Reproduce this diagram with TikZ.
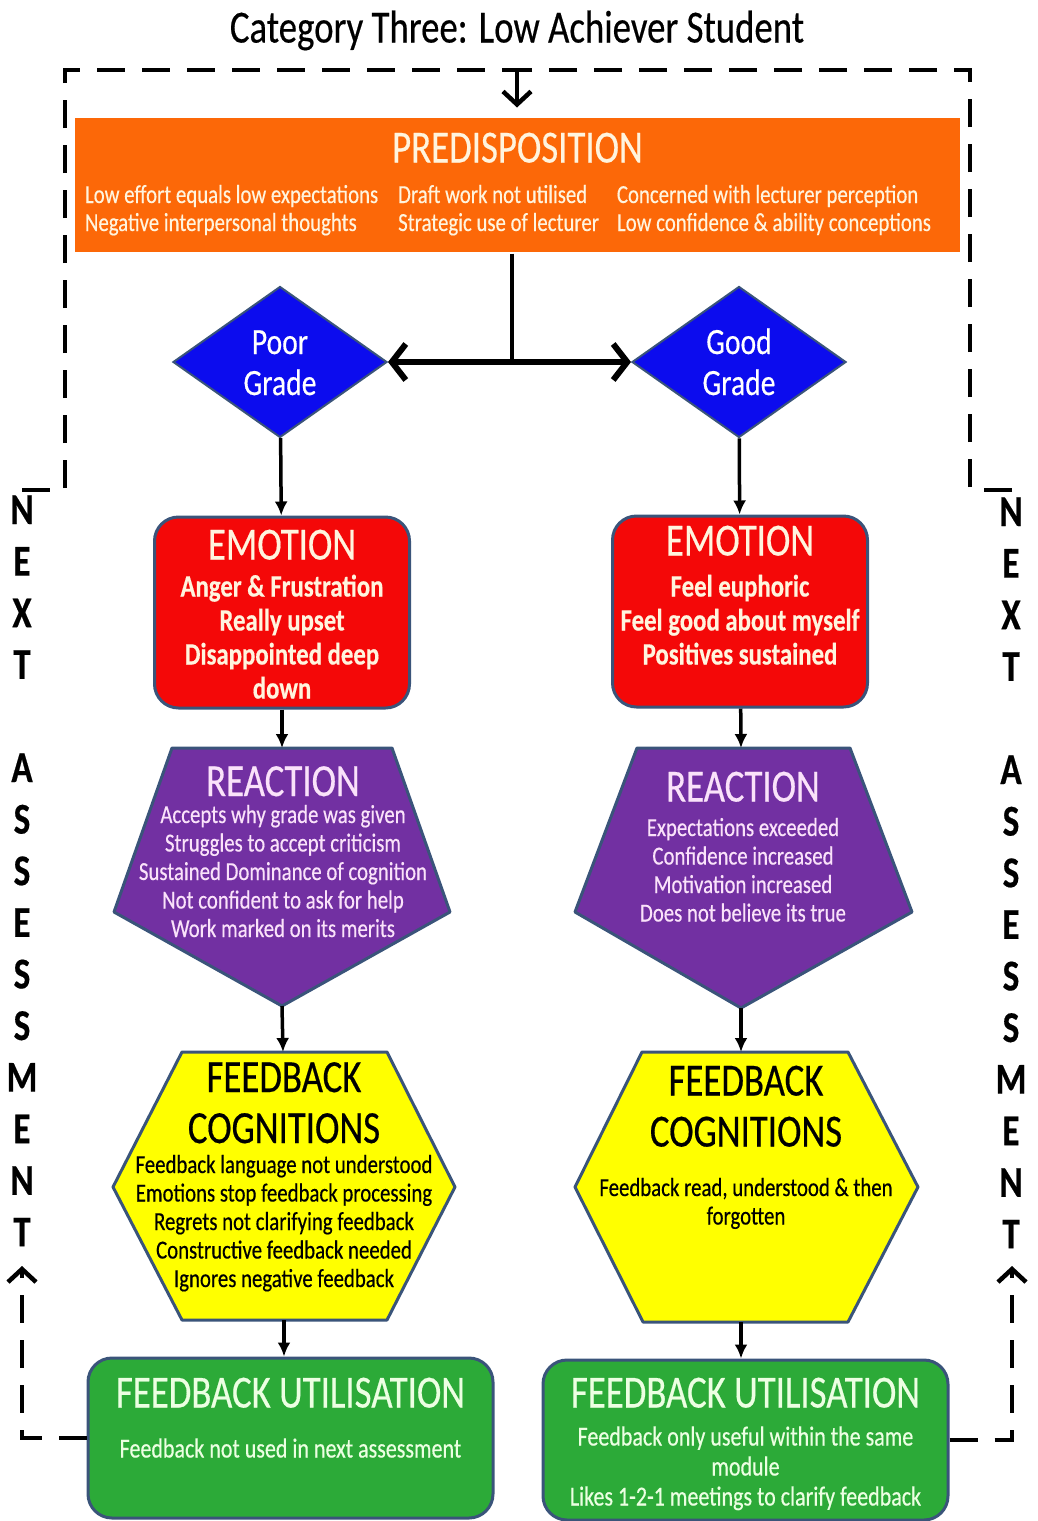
\documentclass[tikz,border=0pt]{standalone}
\usepackage{fontspec}
\setmainfont{Carlito}[FakeStretch=0.8,FakeBold=0.4]
\usepackage{xcolor}
\usepackage{tikz}
\usetikzlibrary{scopes,shapes.geometric,arrows.meta}

\definecolor{edge}{RGB}{58,84,122}
\definecolor{preorange}{RGB}{252,104,8}
\definecolor{cream}{RGB}{255,244,222}
\definecolor{gradeblue}{RGB}{12,12,238}
\definecolor{emored}{RGB}{244,8,8}
\definecolor{reactpurple}{RGB}{114,48,162}
\definecolor{reacttext}{RGB}{250,226,250}
\definecolor{cogyellow}{RGB}{255,255,0}
\definecolor{utilgreen}{RGB}{44,170,56}
\definecolor{utiltext}{RGB}{236,255,226}

\newcommand{\hdfont}{\fontsize{46}{51}\selectfont}
\newcommand{\txtfont}{\fontsize{26}{28.5}\selectfont}

\begin{document}
\begin{tikzpicture}[x=1pt,y=-1pt,
      box/.style={draw=edge,line width=3pt,inner sep=0pt,align=flush center,text height=0pt},
      pre/.style={box,draw=none,fill=preorange,text=cream,minimum width=885pt,minimum height=134pt,text width=880pt,font=\fontsize{26}{28}\selectfont},
      grade/.style={box,diamond,line width=2pt,fill=gradeblue,text=white,aspect=1.42,minimum width=214pt,minimum height=151pt,text width=100pt,font=\fontsize{37}{41}\selectfont},
      emo/.style={box,rounded corners=24pt,fill=emored,text=cream,minimum width=255pt,minimum height=191pt,text width=250pt,font=\fontsize{31}{34}\selectfont\bfseries},
      react/.style={draw=edge,line width=3pt,fill=reactpurple,line join=round},
      cog/.style={draw=edge,line width=3pt,fill=cogyellow,line join=round},
      util/.style={box,rounded corners=24pt,fill=utilgreen,text=utiltext,minimum width=405pt,minimum height=160pt,text width=400pt,font=\fontsize{27.5}{30}\selectfont},
      lbl/.style={inner sep=0pt,anchor=base,align=flush center},
      side/.style={lbl,text width=50pt,font=\fontsize{44}{51.6}\selectfont\bfseries},
      flow/.style={-{Latex[length=14pt,width=13pt]},line width=3.5pt},
      loop/.style={line width=4pt,dash pattern=on 28pt off 17pt},
      barb/.style={-{Straight Barb[length=13pt,width=28pt,line width=4.5pt]}}
]
      \useasboundingbox (0,0) rectangle (1037,1521);

      \node[lbl,font=\hdfont] (title) at (517,42.5) {Category Three: Low Achiever Student};

      \node[pre,text depth=45pt] at (517.5,185) (pre) {{\hdfont PREDISPOSITION\par}\vspace{12.5pt}%
            \hspace*{-19pt}\begin{tabular}[t]{@{}l@{\hspace{20pt}}l@{\hspace{18pt}}l@{}}
            Low effort equals low expectations & Draft work not utilised & Concerned with lecturer perception\\
            Negative interpersonal thoughts & Strategic use of lecturer & Low confidence \& ability conceptions
            \end{tabular}};

      \node[grade,text depth=16pt] at (280,362) (poor) {Poor\\Grade};
      \node[grade,text depth=16pt] at (739,362) (good) {Good\\Grade};

      \node[emo,text depth=106pt] at (282,612.5) (emo1) {{\hdfont\mdseries EMOTION\par}\vspace{3pt}%
            Anger \& Frustration\\ Really upset\\ Disappointed deep\\ down};
      \node[emo,text depth=112pt] at (740,611.5) (emo2) {{\hdfont\mdseries EMOTION\par}\vspace{7pt}%
            Feel euphoric\\ Feel good about myself\\ Positives sustained};

      \coordinate (r1top) at (282,748);
      \coordinate (r1bot) at (282,1006);
      \coordinate (r2top) at (741,748);
      \coordinate (r2bot) at (741,1008);
      \draw[react] (172,748) -- (392,748) -- (450,912) -- (r1bot) -- (114,912) -- cycle;
      \draw[react] (637,748) -- (850,748) -- (912,912) -- (r2bot) -- (575,912) -- cycle;
      \node[lbl,text=reacttext,text width=340pt,font=\txtfont] at (283,796) (react1) {{\hdfont REACTION\par}\vspace{-1.5pt}%
            Accepts why grade was given\\ Struggles to accept criticism\\ Sustained Dominance of cognition\\ Not confident to ask for help\\ Work marked on its merits};
      \node[lbl,text=reacttext,text width=320pt,font=\txtfont] at (743,801.5) (react2) {{\hdfont REACTION\par}\vspace{6pt}%
            Expectations exceeded\\ Confidence increased\\ Motivation increased\\ Does not believe its true};

      \coordinate (h1top) at (283,1052);
      \coordinate (h1bot) at (284,1320);
      \coordinate (h2top) at (741,1052);
      \coordinate (h2bot) at (741,1322);
      \draw[cog] (182,1052) -- (387,1052) -- (455,1187) -- (387,1320) -- (182,1320) -- (113,1187) -- cycle;
      \draw[cog] (642,1052) -- (848,1052) -- (918,1187) -- (848,1322) -- (643,1322) -- (575,1187) -- cycle;
      \node[lbl,text width=340pt,font=\txtfont] at (284,1092) (cog1) {{\hdfont FEEDBACK\\ COGNITIONS\par}\vspace{1.5pt}%
            Feedback language not understood\\ Emotions stop feedback processing\\ Regrets not clarifying feedback\\ Constructive feedback needed\\ Ignores negative feedback};
      \node[lbl,text width=330pt,font=\txtfont] at (746,1095.5) (cog2) {{\hdfont FEEDBACK\\ COGNITIONS\par}\vspace{21pt}%
            Feedback read, understood \& then\\ forgotten};

      \node[util,text depth=61pt] at (290.5,1438) (util1) {{\hdfont FEEDBACK UTILISATION\par}\vspace{20pt}%
            Feedback not used in next assessment};
      \node[util,text depth=65pt] at (745.5,1440) (util2) {{\hdfont FEEDBACK UTILISATION\par}\vspace{8pt}%
            Feedback only useful within the same\\ module\\ Likes 1-2-1 meetings to clarify feedback};

      \node[side] at (22,524) (nextL) {N\\E\\X\\T\\[51.6pt]A\\S\\S\\E\\S\\S\\M\\E\\N\\T};
      \node[side] at (1011,526) (nextR) {N\\E\\X\\T\\[51.6pt]A\\S\\S\\E\\S\\S\\M\\E\\N\\T};

      \coordinate (split) at (512,362);
      \draw[line width=4pt] (split |- pre.south) -- (split);
      \draw[line width=6pt,{Straight Barb[length=14pt,width=36pt]}-{Straight Barb[length=14pt,width=36pt]}] (poor) -- (good);

      {[flow]
          \draw (poor) -- (emo1);
          \draw (good) -- (emo2);
          \draw (emo1) -- (r1top);
          \draw (emo2) -- (r2top);
          \draw (r1bot) -- (h1top);
          \draw (r2bot) -- (h2top);
          \draw (h1bot) -- (h1bot |- util1.north);
          \draw (h2bot) -- (h2bot |- util2.north);
      }

      \coordinate (apex) at (517,70);
      \coordinate (inL) at (22,490);
      \coordinate (inR) at (1012,490);
      \coordinate (backL) at (22,1266);
      \coordinate (backR) at (1012,1266);
      {[loop]
          \draw (inL) -- ++(43,0) |- (apex);
          \draw (inR) -- ++(-42,0) |- (apex);
          \draw[barb] (util1.west) -| (backL);
          \draw[barb] (util2.east) -| (backR);
      }
      \draw[line width=4pt,barb,shorten >=9pt] (apex) -- (apex |- pre.north);
\end{tikzpicture}
\end{document}
